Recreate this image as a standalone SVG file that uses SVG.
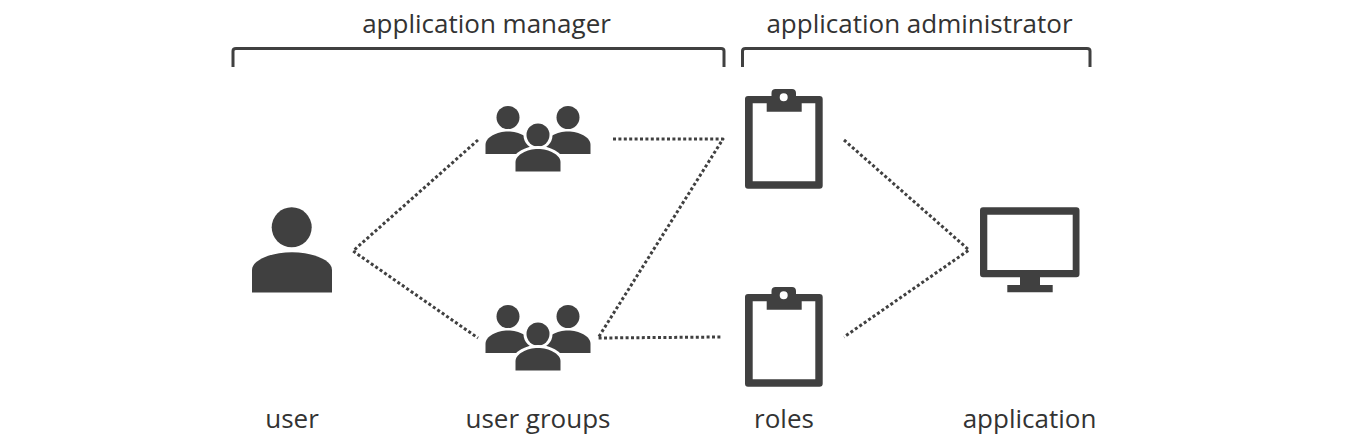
<svg xmlns="http://www.w3.org/2000/svg" xmlns:xlink="http://www.w3.org/1999/xlink" width="1345" height="445" viewBox="0 0 1345 445">
<style>
.lbl{font-family:"Open Sans","Noto Sans","Liberation Sans",sans-serif;font-size:26px;fill:#333;text-anchor:middle}
.ic{fill:#404040}
.ring{fill:#404040;stroke:#fff;stroke-width:6;paint-order:stroke}
.dot{fill:none;stroke:#404040;stroke-width:3;stroke-dasharray:3 2.4;stroke-linejoin:round}
.br{fill:none;stroke:#404040;stroke-width:3}
</style>
<defs>
<g id="people">
<circle class="ic" cx="508" cy="117.5" r="11.500"/>
<circle class="ic" cx="568" cy="117.5" r="11.500"/>
<path class="ic" d="M485.500 154V145C485.500 137 497 131.500 508 131.500C519 131.500 530.500 137 530.500 145V154Z"/>
<path class="ic" d="M590.500 154V145C590.500 137 579 131.500 568 131.500C557 131.500 545.500 137 545.500 145V154Z"/>
<circle class="ring" cx="538" cy="135" r="11.500"/>
<path class="ring" d="M515.500 171.500V162C515.500 155 527 149 538 149C549 149 560.500 155 560.500 162V171.500Z"/>
</g>
<g id="clip">
<path class="ic" fill-rule="evenodd" d="M748 96H771.500V93C771.500 90.500 773 89 775.500 89H792C794.500 89 796 90.500 796 93V96H819.500Q822.700 96 822.700 99V185.500Q822.700 188.700 819.500 188.700H748Q745 188.700 745 185.500V99Q745 96 748 96ZM752.700 103.300V181.300H815.300V103.300H801.700V111.700H766.700V103.300ZM783.700 93.300A4 4 0 1 0 783.700 101.300A4 4 0 1 0 783.700 93.300Z"/>
</g>
</defs>
<g id="connectors">
<path class="dot" d="M478 140L353 251L478 338"/>
<path class="dot" d="M613 139H723L598 338L722 337"/>
<path class="dot" d="M844 140L969 250L844 337"/>
</g>
<g id="bracket-manager">
<path class="br" d="M233 67V51Q233 48.500 236 48.500H721Q724 48.500 724 51V67"/>
<text class="lbl" x="486.500" y="32.500">application manager</text>
</g>
<g id="bracket-administrator">
<path class="br" d="M742.500 67V51Q742.500 48.500 745.500 48.500H1087Q1090 48.500 1090 51V67"/>
<text class="lbl" x="919.500" y="32.500">application administrator</text>
</g>
<g id="user">
<circle class="ic" cx="291.700" cy="227.300" r="20"/>
<path class="ic" d="M252 292.500V270C252 260 271 252.300 292 252.300C313 252.300 332 260 332 270V292.500Z"/>
<text class="lbl" x="292" y="428">user</text>
</g>
<g id="user-groups-top"><use href="#people" xlink:href="#people"/></g>
<g id="user-groups-bottom">
<use href="#people" xlink:href="#people" y="199"/>
<text class="lbl" x="538" y="427.500">user groups</text>
</g>
<g id="roles-top"><use href="#clip" xlink:href="#clip"/></g>
<g id="roles-bottom">
<use href="#clip" xlink:href="#clip" y="198"/>
<text class="lbl" x="784" y="427.500">roles</text>
</g>
<g id="application">
<path class="ic" fill-rule="evenodd" d="M983 207.300H1076.300Q1079.500 207.300 1079.500 210.500V274Q1079.500 277.300 1076.300 277.300H1040V285H1052.700V292.300H1007.300V285H1020V277.300H983Q980 277.300 980 274V210.500Q980 207.300 983 207.300ZM987.300 214.700V270H1072.700V214.700Z"/>
<text class="lbl" x="1029.500" y="427.500">application</text>
</g>
</svg>
